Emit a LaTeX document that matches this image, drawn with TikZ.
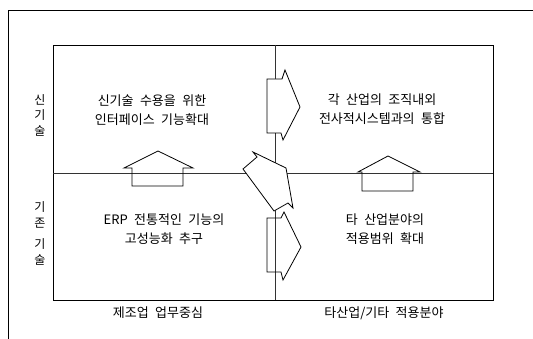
\documentclass[tikz,border=0pt]{standalone}
\usepackage{fontspec}
\setmainfont{Noto Sans CJK KR}[WordSpace=2.2]
\begin{document}
\begin{tikzpicture}[x=1pt,y=-1pt,
  frame/.style={draw=black,line width=0.7pt},
  grid/.style={draw=black!80,line width=0.7pt},
  blockarrow/.style={draw=black,line width=0.8pt,line join=miter},
  lbl/.style={inner sep=0pt,font=\fontsize{13}{18.5}\selectfont,align=center},
  side/.style={inner sep=0pt,font=\fontsize{12}{15.5}\selectfont,align=center}]
\useasboundingbox (0,0) rectangle (533,339);
% outer frame
\coordinate (of1) at (8,339);
\coordinate (of2) at (8,10);
\coordinate (of3) at (533,10);
\draw[frame] (of1) -- (of2) -- (of3);
% inner box
\coordinate (bl) at (53,300);
\coordinate (tr) at (493,45);
\draw[frame] (bl) rectangle (tr);
\coordinate (vt) at (275,45);
\coordinate (vb) at (275,300);
\coordinate (hl) at (53,173);
\coordinate (hr) at (493,173);
\draw[grid] (vt) -- (vb);
\draw[grid] (hl) -- (hr);
% upper middle arrow (right)
\draw[blockarrow,fill=white] (267,79) -- (282,79) -- (285,70) -- (300,107) -- (283,140) -- (281,133) -- (267,133) -- cycle;
% lower middle arrow (right)
\draw[blockarrow] (267,218) -- (281,218) -- (284,212) -- (301,247) -- (283,280) -- (281,272) -- (267,272) -- cycle;
% centre rotated arrow
\draw[blockarrow,fill=white] (286,168) -- (253,152) -- (257,157) -- (243,169) -- (274,211) -- (288,203) -- (293,208) -- cycle;
% left up arrow
\draw[blockarrow] (158,151) -- (193,168) -- (183,168) -- (183,186) -- (132,186) -- (132,168) -- (124,168) -- cycle;
% right up arrow
\draw[blockarrow] (388,156) -- (420,172) -- (413,172) -- (413,191) -- (362,191) -- (362,172) -- (358,172) -- cycle;
% quadrant texts
\node[lbl] (ul) at (152,110) {신기술 수용을 위한\\인터페이스 기능확대};
\node[lbl] (ur) at (382,109) {각 산업의 조직내외\\전사적시스템과의 통합};
\node[lbl] (ll) at (164,229) {ERP 전통적인 기능의\\고성능화 추구};
\node[lbl] (lr) at (385,229) {타 산업분야의\\적용범위 확대};
% axis labels
\node[lbl] (xl) at (158,313) {제조업 업무중심};
\node[lbl] (xr) at (384,313) {타산업/기타 적용분야};
\node[side] (yu) at (40,115) {신\\기\\술};
\node[side] (yl1) at (40,215) {기\\존};
\node[side] (yl2) at (40,252) {기\\술};
\end{tikzpicture}
\end{document}
